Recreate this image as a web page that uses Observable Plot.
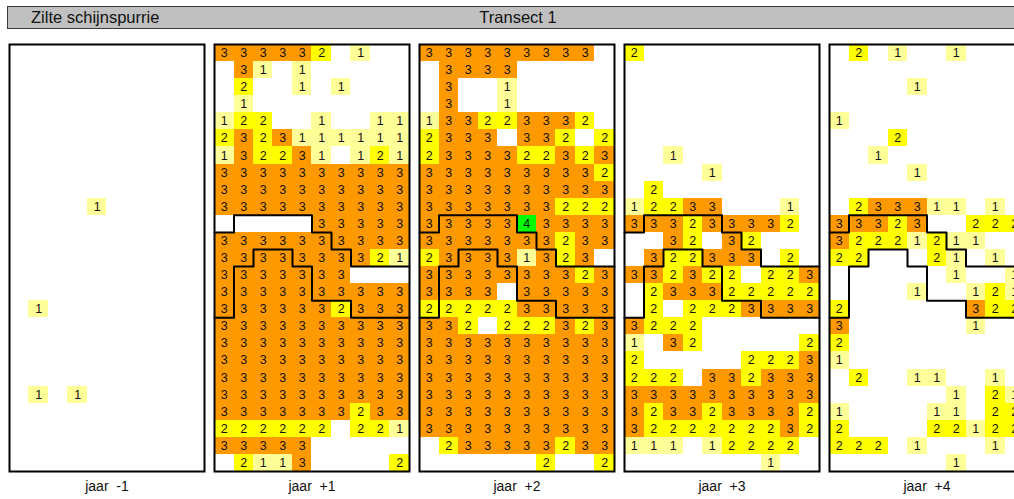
<!DOCTYPE html>
<html>
<head>
<meta charset="utf-8">
<script src="https://cdn.jsdelivr.net/npm/d3@7"></script>
<script src="https://cdn.jsdelivr.net/npm/@observablehq/plot@0.6"></script>
<style>
html, body { margin: 0; padding: 0; background: #fff; overflow: hidden; width: 1014px; height: 499px; }
#wrap { position: relative; width: 1014px; height: 499px; overflow: hidden; font-family: "Liberation Sans", Arial, sans-serif; }
#hdr { position: absolute; left: 7px; top: 6px; width: 1040px; height: 21px; background: #c0c0c0; border: 1px solid #3a3a3a; }
#hdr span { position: absolute; top: 0; line-height: 21px; font-size: 16.5px; color: #111; white-space: pre; }
#hdr .l { left: 23px; }
#hdr .c { left: 510px; transform: translateX(-50%); }
#chart { position: absolute; left: 0; top: 36px; width: 1040px; }
#chart svg { max-width: none !important; }
</style>
</head>
<body>
<div id="wrap">
  <div id="hdr"><span class="l">Zilte schijnspurrie</span><span class="c">Transect 1</span></div>
  <div id="chart"></div>
</div>
<script>
// ---- data (scores per cell, rows top→bottom, 10 columns; "." = no plant) ----
const years = ["-1", "+1", "+2", "+3", "+4"];
const yearLabels = ["jaar\u00a0\u00a0-1", "jaar\u00a0\u00a0+1", "jaar\u00a0\u00a0+2", "jaar\u00a0\u00a0+3", "jaar\u00a0\u00a0+4"];
const scoreCategories = ["1", "2", "3", "4"];

const gridM1 = [
  "..........", "..........", "..........", "..........", "..........",
  "..........", "..........", "..........", "..........", "....1.....",
  "..........", "..........", "..........", "..........", "..........",
  ".1........", "..........", "..........", "..........", "..........",
  ".1.1......", "..........", "..........", "..........", ".........."
];
const gridP1 = [
  "333332.1..", ".31.1.....", ".2..1.1...", ".1........", "122..1..11",
  "2323111111", "132231.121", "3333333333", "3333333333", "3333333333",
  ".....33333", "3333333333", "3333333321", "3333333...", "3333333333",
  "3333332333", "3333333333", "3333333333", "3333333333", "3333333333",
  "3333333333", "3333333233", "222222.221", "33333.....", ".2113....2"
];
const gridP2 = [
  "333333333.", ".3333.....", ".3..1.....", ".3..1.....", "133223332.",
  "2333.332.2", "2333322323", "3333333332", "3333333333", "3333333222",
  "3333343333", "3333333233", "233331323.", "3333333323", "3333.33333",
  "2222233333", "332.222323", "3333333333", "3333333333", "3333333333",
  "3333333333", "3333333333", "3333333333", ".233333233", "......2..2"
];
const gridP3 = [
  "2.........", "..........", "..........", "..........", "..........",
  "..........", "..1.......", "....1.....", ".2........", "12233...1.",
  "333233332.", "..32.32...", ".322333.2.", "332322.223", ".233322222",
  ".2.2223333", "3222......", "1.32.....2", "2.....2223", "222.332333",
  "3333333333", "3233233332", "3222222232", "111.12222.", ".......1.."
];
const gridP4 = [
  ".2.1..1...", "..........", "....1.....", "..........", "1.........",
  "...2......", "..1.......", "....1.....", "..........", ".233311.1.",
  "33323..222", "32221211..", "22...21.1.", "......1..1", "....1..121",
  "2......322", "3......1..", "2.........", "1.........", ".2..11..1.",
  "......1.21", "1....11.22", "2....22122", "222.1...1.", "......1..."
];

// zone boundaries in grid units [column edge, row edge]
const boundaryUpper = [[0, 11], [1, 11], [1, 10], [5, 10], [5, 11], [6, 11], [6, 12], [7, 12], [7, 13], [10, 13]];
const boundaryLower = [[0, 16], [1, 16], [1, 13], [2, 13], [2, 12], [4, 12], [4, 13], [5, 13], [5, 15], [7, 15], [7, 16], [10, 16]];
const boundaryYears = ["+1", "+2", "+3", "+4"];

// ---- build tables ----
const grids = [gridM1, gridP1, gridP2, gridP3, gridP4];
const cells = [];
years.forEach((yr, i) => grids[i].forEach((row, r) => [...row].forEach((ch, c) => {
  if (ch !== ".") cells.push({year: yr, r, c, v: ch});
})));
const lines = boundaryYears.flatMap(yr =>
  [["u", boundaryUpper], ["l", boundaryLower]].flatMap(([k, pts]) =>
    pts.map(([c, r]) => ({year: yr, key: yr + k, c, r}))));
const labels = years.map((yr, i) => ({year: yr, label: yearLabels[i]}));

const plot = Plot.plot({
  width: 1040,
  height: 463,
  marginLeft: 9,
  marginRight: 16,
  marginTop: 8,
  marginBottom: 28,
  style: {fontFamily: '"Liberation Sans", Arial, sans-serif', background: "transparent", overflow: "visible", maxWidth: "none"},
  fx: {domain: years, paddingInner: 0.0488, paddingOuter: 0, round: false, axis: null},
  x: {domain: [0, 10], axis: null},
  y: {domain: [0, 25], reverse: true, axis: null},
  color: {type: "ordinal", domain: scoreCategories, range: ["#ffff99", "#ffff00", "#ff9900", "#00ff00"]},
  marks: [
    Plot.rect(cells, {fx: "year", x1: "c", x2: d => d.c + 1, y1: "r", y2: d => d.r + 1, fill: "v", shapeRendering: "crispEdges"}),
    Plot.text(cells, {fx: "year", x: d => d.c + 0.5, y: d => d.r + 0.5, text: "v", fontSize: 12.5, fill: "#111"}),
    Plot.line(lines, {fx: "year", x: "c", y: "r", z: "key", stroke: "black", strokeWidth: 2}),
    Plot.frame({stroke: "black", strokeWidth: 2}),
    Plot.text(labels, {fx: "year", text: "label", frameAnchor: "bottom", dy: 19, fontSize: 14, fill: "#111"})
  ]
});
document.getElementById("chart").appendChild(plot);
</script>
</body>
</html>
